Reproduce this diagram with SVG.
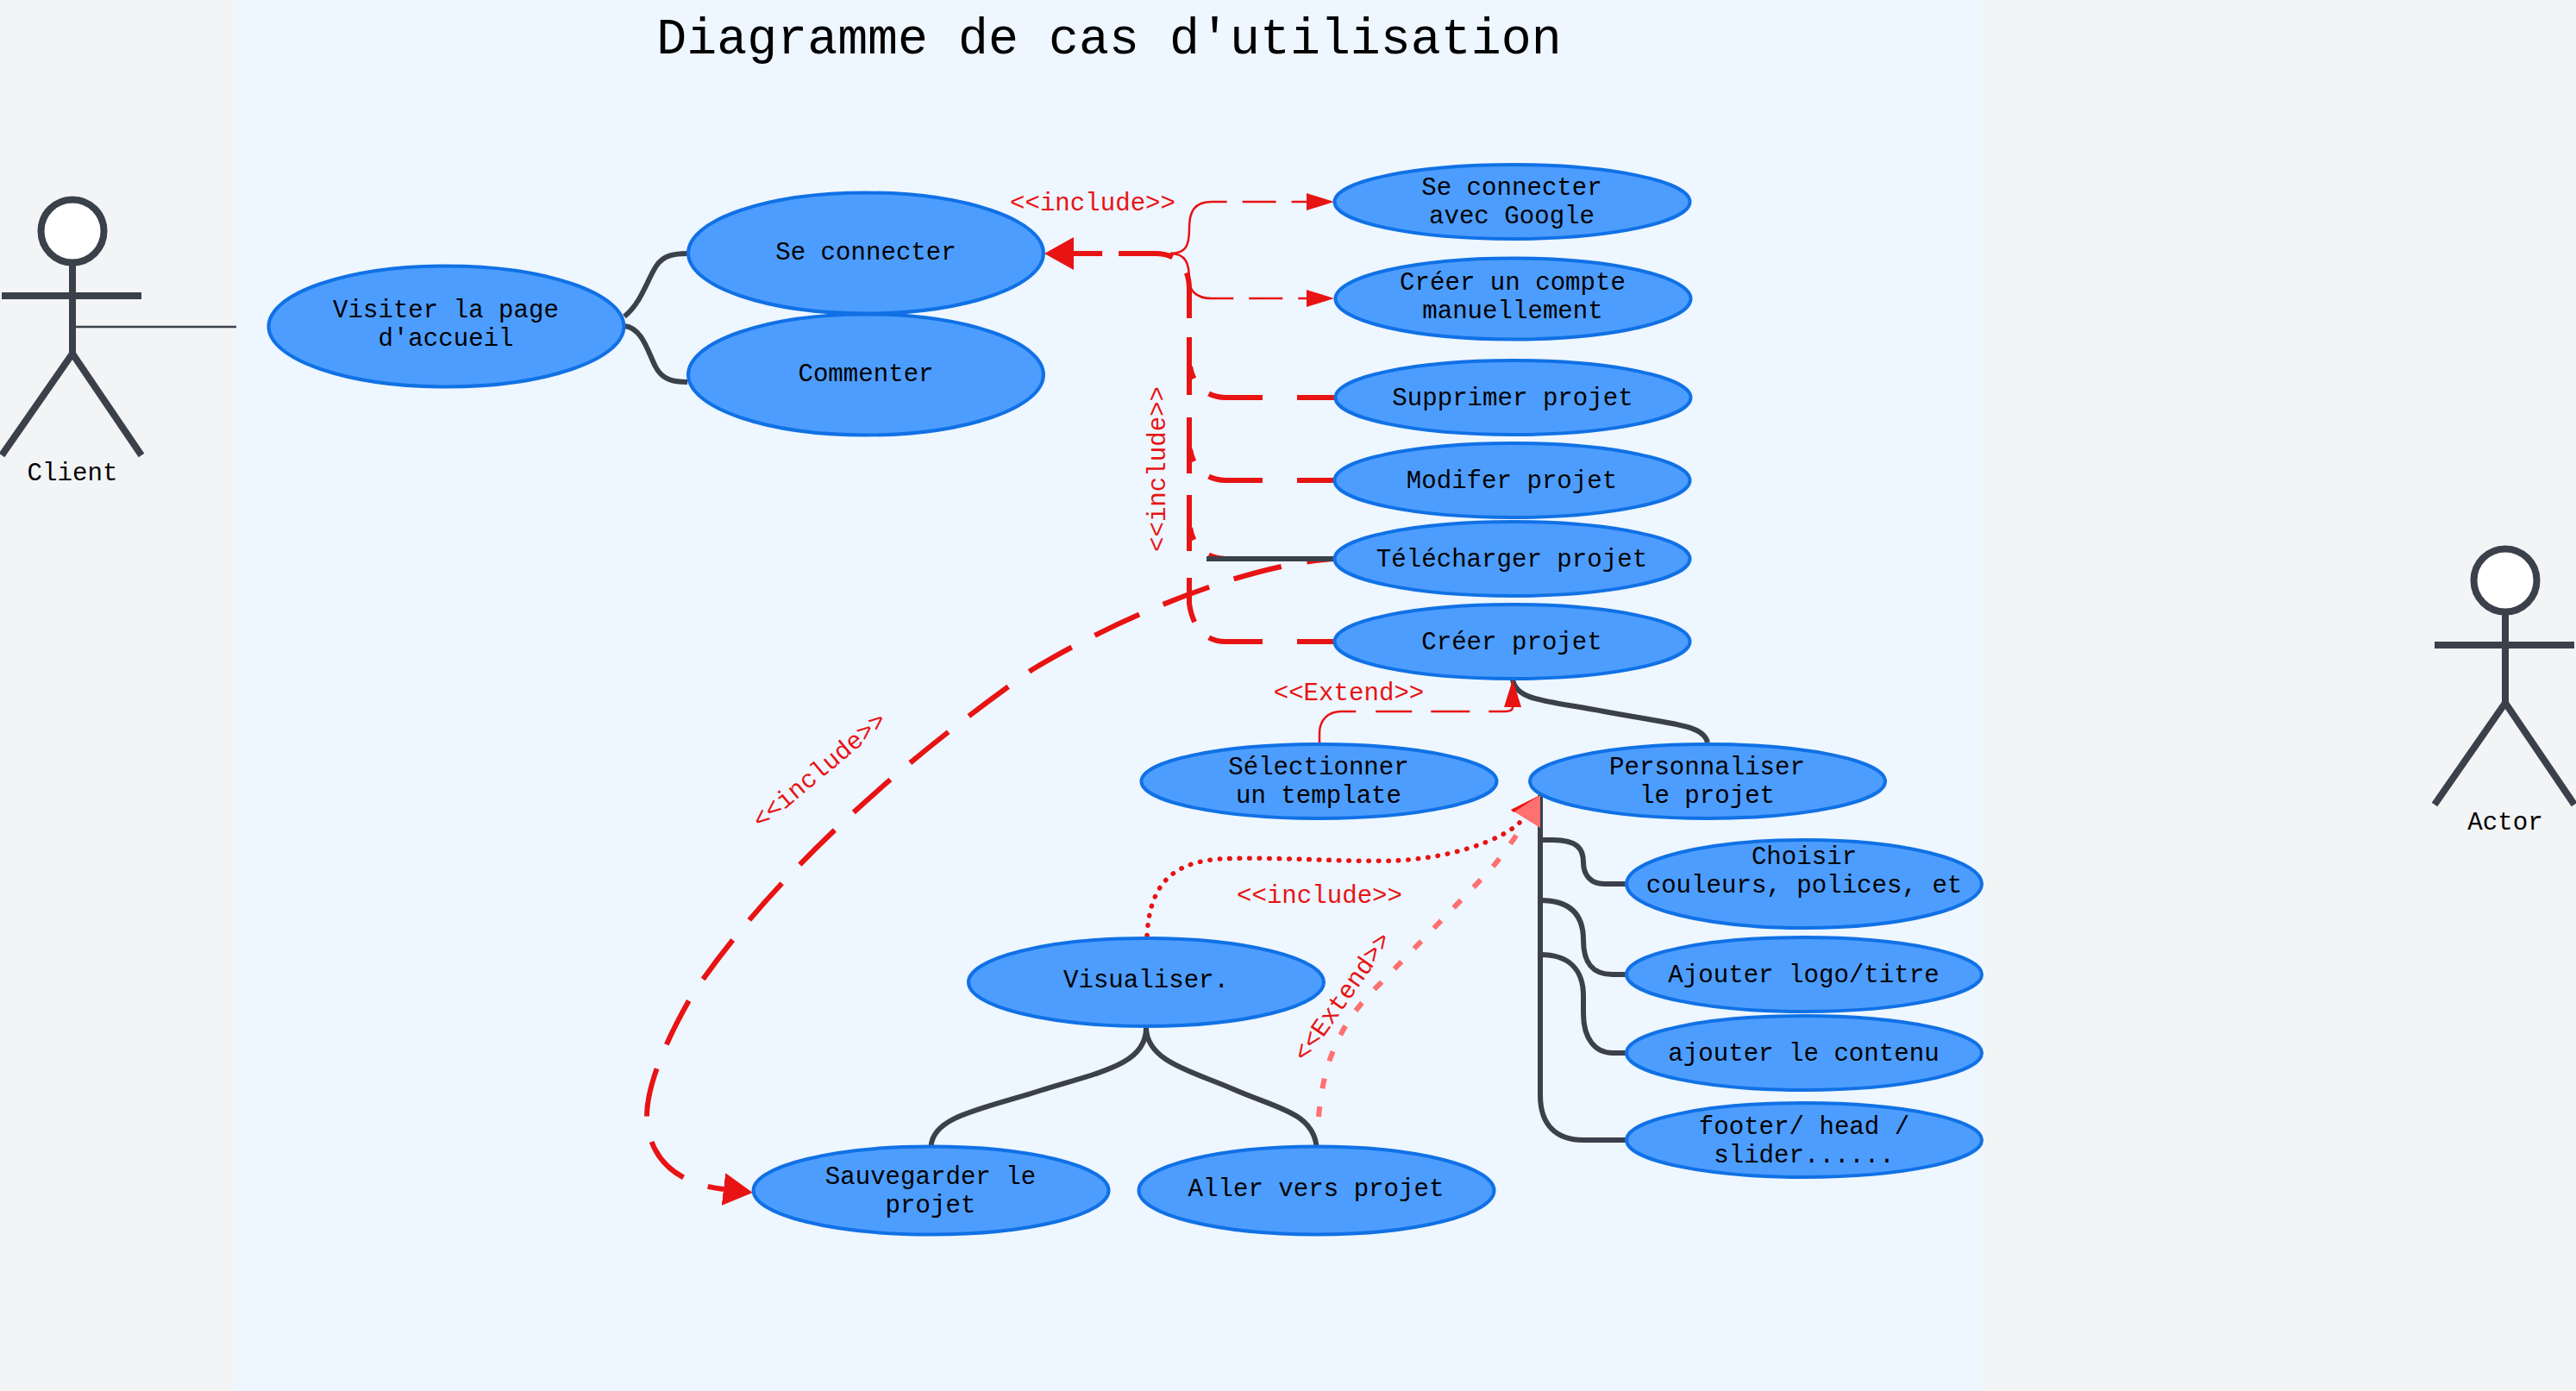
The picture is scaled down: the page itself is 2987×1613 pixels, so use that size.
<svg xmlns="http://www.w3.org/2000/svg" width="2987" height="1613" viewBox="0 0 2987 1613">
<style>
text{font-family:"Liberation Mono","DejaVu Sans Mono",monospace;font-size:29.1px;fill:#000;text-anchor:middle}
.title{font-size:58.3px}
.lbl{fill:#e81313}
.uc{fill:#4d9dff;stroke:#1071e5;stroke-width:4}
.act{fill:none;stroke:#3a414a;stroke-width:8}
.head{fill:#fff;stroke:#3a414a;stroke-width:8}
.solid{fill:none;stroke:#3a414a;stroke-width:6}
.red{fill:none;stroke:#e81313;stroke-width:6}
.thin{fill:none;stroke:#e81313;stroke-width:2.5}
.pink{fill:none;stroke:#ff7070;stroke-width:6}
.dots{fill:none;stroke:#e81313;stroke-width:5.5;stroke-linecap:round;stroke-dasharray:.5 11}
</style>
<defs>
<marker id="big" markerUnits="userSpaceOnUse" markerWidth="34" markerHeight="38" viewBox="0 0 34 38" refX="0" refY="19" orient="auto"><path d="M0 0L34 19L0 38Z" fill="#e81313"/></marker>
<marker id="small" markerUnits="userSpaceOnUse" markerWidth="32" markerHeight="20" viewBox="0 0 32 20" refX="0" refY="10" orient="auto"><path d="M0 0L32 10L0 20Z" fill="#e81313"/></marker>
</defs>
<rect width="2987" height="1613" fill="#f3f4f6"/>
<rect x="274" width="2024" height="1613" fill="#eef6ff"/>
<text class="title" x="1286" y="62">Diagramme de cas d'utilisation</text>
<g id="connectors">
<path class="solid" style="stroke-width:2.5" d="M86 379H274"/>
<path class="solid" d="M724 367C745 350 752 320 762 307C770 296 782 294 797 294"/>
<path class="solid" d="M724 378C745 380 752 410 760 425C768 441 782 443 797 443"/>
<path class="solid" d="M1754 788C1758 812 1790 812 1860 825C1940 840 1975 840 1980 861"/>
<path class="solid" d="M1786 922V1270C1786 1305 1805 1322 1836 1322H1886"/>
<path class="solid" d="M1786 974H1800C1830 974 1836 985 1836 1000C1836 1015 1845 1025 1860 1025H1886"/>
<path class="solid" d="M1786 1044C1820 1044 1836 1060 1836 1090C1836 1115 1845 1130 1870 1130H1886"/>
<path class="solid" d="M1786 1107C1820 1107 1836 1125 1836 1155V1175C1836 1205 1850 1221 1870 1221H1886"/>
<path class="solid" d="M1329 1192C1329 1235 1275 1243 1205 1265C1135 1287 1082 1295 1079.6 1329"/>
<path class="solid" d="M1329 1192C1330 1232 1385 1243 1430 1263C1480 1285 1522 1290 1526.5 1329"/>
<path class="thin" stroke-dasharray="107 18 39 18 200" marker-end="url(#small)" d="M1357 294C1375 294 1379 285 1379 265C1379 245 1385 234 1405 234H1515"/>
<path class="thin" stroke-dasharray="107 18 39 18 200" marker-end="url(#small)" d="M1357 294C1375 294 1379 305 1379 325C1379 335 1385 346 1405 346H1515"/>
<path class="thin" stroke-dasharray="68 23 42 22 45 22 60" marker-end="url(#small)" d="M1530 861V850C1530 835 1540 825 1555 825H1745C1751 825 1754 823 1754 820"/>
<path class="red" stroke-dasharray="43 40 63 25 60" d="M1547 461H1421C1398 461 1383 445 1380 425"/>
<path class="red" stroke-dasharray="43 40 63 25 60" d="M1547 557H1421C1398 557 1383 541 1380 521"/>
<path class="red" stroke-dasharray="43 40 63 25 60" d="M1547 648H1421C1398 648 1383 632 1380 612"/>
<path class="red" stroke-dasharray="43 40 63 25 52 31 65 25 65 26 67 22 53 25 63 19 30 0" marker-end="url(#big)" d="M1547 744H1421C1398 744 1383 728 1379 700V335C1379 310 1365 294 1340 294H1245"/>
<path class="red" stroke-dasharray="57 30" stroke-dashoffset="25" marker-end="url(#big)" d="M1547 648C1440 655 1290 720 1196 777C1050 880 900 1010 803 1153C770 1210 750 1260 750 1295C752 1340 780 1372 839 1379"/>
<path class="solid" d="M1399 648H1547"/>
<path class="pink" stroke-dasharray="12 21" d="M1529 1295C1534 1240 1548 1190 1601 1140L1721 1016C1735 1002 1755 975 1766 956"/>
<path class="dots" d="M1330 1085C1333 1030 1355 1000 1415 996C1480 993 1560 1000 1615 998C1680 996 1740 975 1762 954"/>
<path d="M1786 922L1752 939L1786 960Z" fill="#ff7070"/>
<path d="M1786 922L1752 939L1755 942Z" fill="#e81313"/>
</g>
<g id="labels">
<text class="lbl" x="1267" y="244">&lt;&lt;include&gt;&gt;</text>
<text class="lbl" transform="translate(1351 544) rotate(-90)">&lt;&lt;include&gt;&gt;</text>
<text class="lbl" x="1564" y="812">&lt;&lt;Extend&gt;&gt;</text>
<text class="lbl" x="1530" y="1047">&lt;&lt;include&gt;&gt;</text>
<text class="lbl" transform="translate(1564 1161) rotate(-55)">&lt;&lt;Extend&gt;&gt;</text>
<text class="lbl" transform="translate(956 900) rotate(-40)">&lt;&lt;include&gt;&gt;</text>
</g>
<g id="actor-client">
<circle class="head" cx="84" cy="268" r="36.5"/>
<path class="act" d="M84 304V410M2 343H164M2 528L84 410L164 528"/>
<text x="84" y="557">Client</text>
</g>
<g id="actor-actor">
<circle class="head" cx="2905" cy="673" r="36.5"/>
<path class="act" d="M2905 709V815M2823 748H2985M2823 933L2905 815L2985 933"/>
<text x="2905" y="962">Actor</text>
</g>
<g id="uc-visiter"><ellipse class="uc" cx="517.5" cy="378.5" rx="206" ry="70"/><text x="517" y="368">Visiter la page</text><text x="517" y="401">d'accueil</text></g>
<g id="uc-connecter"><ellipse class="uc" cx="1004" cy="293.5" rx="206" ry="70"/><text x="1004" y="301">Se connecter</text></g>
<g id="uc-commenter"><ellipse class="uc" cx="1004" cy="434.5" rx="206" ry="70"/><text x="1004" y="442">Commenter</text></g>
<g id="uc-google"><ellipse class="uc" cx="1753.5" cy="234" rx="206" ry="43"/><text x="1753" y="226">Se connecter</text><text x="1753" y="259">avec Google</text></g>
<g id="uc-compte"><ellipse class="uc" cx="1754.5" cy="346.5" rx="206" ry="47"/><text x="1754" y="336">Créer un compte</text><text x="1754" y="369">manuellement</text></g>
<g id="uc-supprimer"><ellipse class="uc" cx="1754.5" cy="461" rx="206" ry="43"/><text x="1754" y="470">Supprimer projet</text></g>
<g id="uc-modifier"><ellipse class="uc" cx="1753.5" cy="557" rx="206" ry="43"/><text x="1753" y="566">Modifer projet</text></g>
<g id="uc-telecharger"><ellipse class="uc" cx="1753.5" cy="648" rx="206" ry="43"/><text x="1753" y="657">Télécharger projet</text></g>
<g id="uc-creer"><ellipse class="uc" cx="1753.5" cy="744" rx="206" ry="43"/><text x="1753" y="753">Créer projet</text></g>
<g id="uc-template"><ellipse class="uc" cx="1529.5" cy="906" rx="206" ry="43"/><text x="1529" y="898">Sélectionner</text><text x="1529" y="931">un template</text></g>
<g id="uc-personnaliser"><ellipse class="uc" cx="1980" cy="906" rx="206" ry="43"/><text x="1979.5" y="898">Personnaliser</text><text x="1979.5" y="931">le projet</text></g>
<g id="uc-choisir"><ellipse class="uc" cx="2092" cy="1025" rx="206" ry="51"/><text x="2092" y="1002">Choisir</text><text x="2092" y="1035">couleurs, polices, et</text></g>
<g id="uc-logo"><ellipse class="uc" cx="2092" cy="1130" rx="206" ry="43"/><text x="2091.5" y="1139">Ajouter logo/titre</text></g>
<g id="uc-contenu"><ellipse class="uc" cx="2092" cy="1221" rx="206" ry="43"/><text x="2091.5" y="1230">ajouter le contenu</text></g>
<g id="uc-footer"><ellipse class="uc" cx="2092" cy="1322" rx="206" ry="43"/><text x="2092" y="1315">footer/ head /</text><text x="2092" y="1348">slider......</text></g>
<g id="uc-visualiser"><ellipse class="uc" cx="1329" cy="1139" rx="206" ry="51"/><text x="1329" y="1145">Visualiser.</text></g>
<g id="uc-sauvegarder"><ellipse class="uc" cx="1079.6" cy="1380.5" rx="206" ry="51"/><text x="1079" y="1373">Sauvegarder le</text><text x="1079" y="1406">projet</text></g>
<g id="uc-aller"><ellipse class="uc" cx="1526.5" cy="1380.5" rx="206" ry="51"/><text x="1526" y="1387">Aller vers projet</text></g>
</svg>
